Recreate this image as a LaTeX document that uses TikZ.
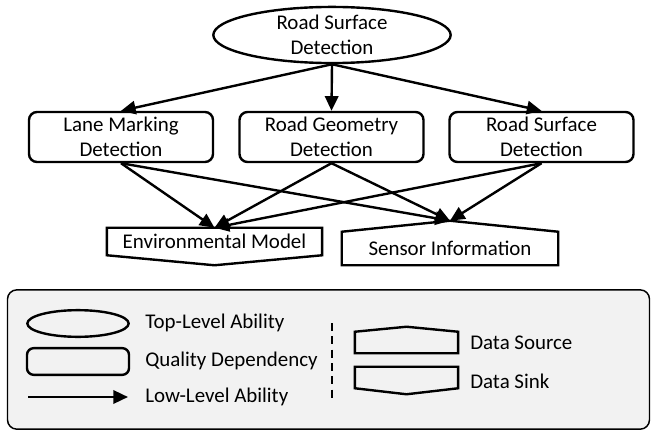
\documentclass[tikz,border=0pt]{standalone}
\usepackage{fontspec}
\setmainfont{Carlito}
\usetikzlibrary{arrows.meta,calc,shapes.geometric}
\definecolor{legfill}{HTML}{F2F2F2}
\begin{document}
\begin{tikzpicture}[x=0.75pt,y=-0.75pt,
  lw/.style={line width=1.8pt},
  txt/.style={font=\fontsize{15.7}{18.75}\selectfont, align=center},
  topab/.style={ellipse, draw, lw, txt, minimum width=178pt, minimum height=40pt, inner sep=0pt},
  dep/.style={rectangle, rounded corners=6pt, draw, lw, txt, minimum width=138pt, minimum height=37.5pt, inner sep=0pt},
  iobox/.style={rectangle, txt, inner sep=0pt},
  arr/.style={lw, -{Triangle[length=11pt,width=10pt]}},
  legtxt/.style={font=\fontsize{15.7}{18.75}\selectfont, anchor=west, inner sep=0pt},
  iooutline/.style={lw, line join=miter}
]
\useasboundingbox (0,0) rectangle (652,431);

% legend background
\node[draw, line width=1.1pt, fill=legfill, rounded corners=7pt, minimum width=481.5pt, minimum height=104.5pt, inner sep=0pt] (legend) at (328.5,359.5) {};

% main nodes
\node[topab] (rsd) at (332,35) {Road Surface\\Detection};
\node[dep] (lmd) at (121,137) {Lane Marking\\Detection};
\node[dep] (rgd) at (331.5,137) {Road Geometry\\Detection};
\node[dep] (rsd2) at (541.5,137) {Road Surface\\Detection};

\node[iobox, minimum width=161pt, minimum height=20.25pt] (env) at (214.5,241.5) {Environmental Model};
\draw[iooutline] (env.north west) -- (env.north east) -- (env.south east) -- ($(env.south)+(0,10)$) -- (env.south west) -- cycle;

\node[iobox, minimum width=162pt, minimum height=24.75pt] (sen) at (450,248.5) {Sensor Information};
\coordinate (senpeak) at ($(sen.north)+(0,-11)$);
\draw[iooutline] (sen.north west) -- (senpeak) -- (sen.north east) -- (sen.south east) -- (sen.south west) -- cycle;

% connectors
\draw[arr] (rsd.south) -- (lmd.north);
\draw[arr] (rsd.south) -- (rgd.north);
\draw[arr] (rsd.south) -- (rsd2.north);

\draw[arr] (lmd.south) -- (env.north);
\draw[arr] (lmd.south) -- (senpeak);
\draw[arr] (rgd.south) -- (env.north);
\draw[arr] (rgd.south) -- (senpeak);
\draw[arr] (rsd2.south) -- (env.north);
\draw[arr] (rsd2.south) -- (senpeak);

% legend items
\node[ellipse, draw, lw, minimum width=76pt, minimum height=20pt, inner sep=0pt] (lgtop) at (78,323.5) {};
\node[legtxt] (lgtopt) at (145,323) {Top-Level Ability};
\node[rectangle, rounded corners=5pt, draw, lw, minimum width=76.5pt, minimum height=20pt, inner sep=0pt] (lgdep) at (78,361.5) {};
\node[legtxt] (lgdept) at (145,361) {Quality Dependency};
\coordinate (lgarra) at (28,397);
\coordinate (lgarrb) at (128,397);
\draw[arr] (lgarra) -- (lgarrb);
\node[legtxt] (lgarrt) at (145,397) {Low-Level Ability};

\coordinate (dasha) at (332,323);
\coordinate (dashb) at (332,402);
\draw[line width=0.9pt, dash pattern=on 6pt off 4pt] (dasha) -- (dashb);

\node[rectangle, minimum width=77pt, minimum height=15.75pt, inner sep=0pt] (lgsrc) at (406.5,342.5) {};
\draw[iooutline] (lgsrc.north west) -- ($(lgsrc.north)+(0,-5)$) -- (lgsrc.north east) -- (lgsrc.south east) -- (lgsrc.south west) -- cycle;
\node[legtxt] (lgsrct) at (470,343) {Data Source};

\node[rectangle, minimum width=77pt, minimum height=15.75pt, inner sep=0pt] (lgsnk) at (406.5,377.5) {};
\draw[iooutline] (lgsnk.north west) -- (lgsnk.north east) -- (lgsnk.south east) -- ($(lgsnk.south)+(0,6)$) -- (lgsnk.south west) -- cycle;
\node[legtxt] (lgsnkt) at (470,381) {Data Sink};
\end{tikzpicture}
\end{document}
